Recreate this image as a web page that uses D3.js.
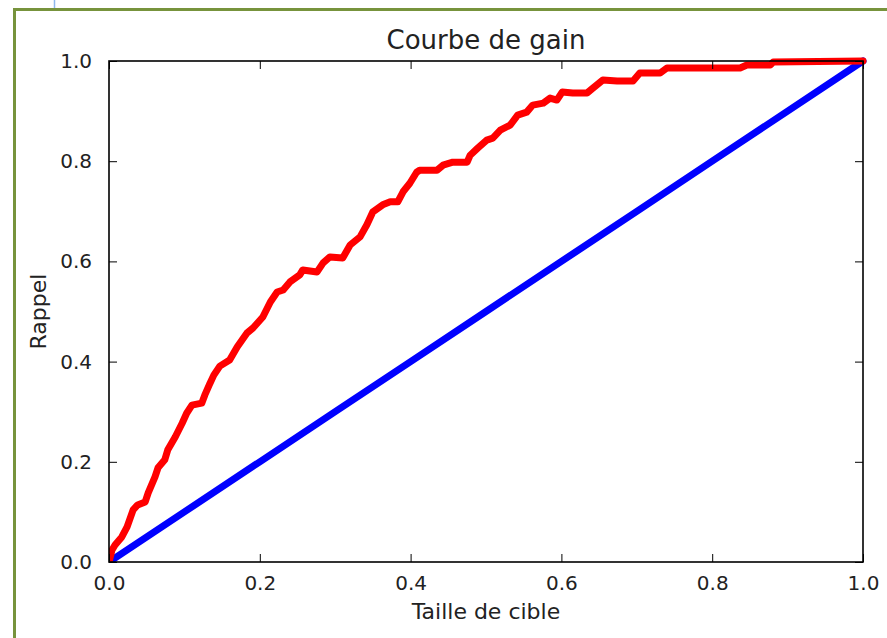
<!DOCTYPE html>
<html>
<head>
<meta charset="utf-8">
<script src="https://cdn.jsdelivr.net/npm/d3@7"></script>
<style>
  html, body { margin: 0; padding: 0; background: #fff; }
  svg { display: block; }
  text { font-family: "DejaVu Sans", sans-serif; fill: #222; }
</style>
</head>
<body>
<svg id="chart" width="887" height="638"></svg>
<script>
// ---- data ----
const titleText = "Courbe de gain";
const xLabel = "Taille de cible";
const yLabel = "Rappel";
const xTicks = [0.0, 0.2, 0.4, 0.6, 0.8, 1.0];
const yTicks = [0.0, 0.2, 0.4, 0.6, 0.8, 1.0];

// gain curve (red)
const gainX = [0, 0.004, 0.008, 0.017, 0.024, 0.032, 0.038, 0.048, 0.052, 0.061, 0.065, 0.074, 0.078, 0.088, 0.097, 0.103, 0.110, 0.123, 0.127, 0.134, 0.139, 0.147, 0.160, 0.170, 0.183, 0.191, 0.204, 0.214, 0.223, 0.231, 0.240, 0.253, 0.257, 0.276, 0.284, 0.293, 0.310, 0.320, 0.333, 0.342, 0.350, 0.363, 0.373, 0.383, 0.390, 0.399, 0.408, 0.412, 0.435, 0.443, 0.456, 0.475, 0.479, 0.489, 0.501, 0.509, 0.519, 0.532, 0.542, 0.554, 0.562, 0.576, 0.585, 0.594, 0.601, 0.615, 0.634, 0.642, 0.655, 0.674, 0.695, 0.704, 0.731, 0.740, 0.837, 0.846, 0.877, 0.881, 1.0];
const gainY = [0, 0.024, 0.034, 0.050, 0.070, 0.104, 0.114, 0.120, 0.138, 0.170, 0.188, 0.204, 0.224, 0.250, 0.277, 0.297, 0.313, 0.317, 0.333, 0.357, 0.373, 0.391, 0.403, 0.429, 0.457, 0.467, 0.489, 0.519, 0.539, 0.543, 0.559, 0.573, 0.583, 0.579, 0.597, 0.609, 0.607, 0.633, 0.649, 0.673, 0.699, 0.713, 0.719, 0.719, 0.739, 0.756, 0.778, 0.782, 0.782, 0.792, 0.798, 0.798, 0.812, 0.826, 0.842, 0.846, 0.862, 0.872, 0.892, 0.898, 0.912, 0.916, 0.926, 0.922, 0.938, 0.936, 0.936, 0.946, 0.962, 0.960, 0.960, 0.976, 0.976, 0.986, 0.986, 0.992, 0.992, 0.998, 1.0];

// random baseline (blue)
const baseX = [0, 0.1, 0.2, 0.3, 0.4, 0.5, 0.6, 0.7, 0.8, 0.9, 1.0];
const baseY = [0, 0.1, 0.2, 0.3, 0.4, 0.5, 0.6, 0.7, 0.8, 0.9, 1.0];

// ---- layout ----
const svg = d3.select("#chart");
const L = 109, R = 863, T = 61, B = 562;

// page decoration: green frame and small blue line
svg.append("line").attr("x1", 54.5).attr("x2", 54.5).attr("y1", 0).attr("y2", 9)
  .attr("stroke", "#8fb8ee").attr("stroke-width", 1.5);
svg.append("path").attr("d", "M14.5,638 V9.5 H887")
  .attr("fill", "none").attr("stroke", "#77933c").attr("stroke-width", 3);

const x = d3.scaleLinear().domain([0, 1]).range([L, R]);
const y = d3.scaleLinear().domain([0, 1]).range([B, T]);

const clipId = "plotclip";
svg.append("clipPath").attr("id", clipId).append("rect")
  .attr("x", L).attr("y", T - 4).attr("width", R - L + 4).attr("height", B - T + 4);

const line = d3.line().x(d => x(d[0])).y(d => y(d[1]));
const g = svg.append("g").attr("clip-path", `url(#${clipId})`);
g.append("path").datum(baseX.map((v, i) => [v, baseY[i]]))
  .attr("d", line).attr("fill", "none").attr("stroke", "#0000ff")
  .attr("stroke-width", 7).attr("stroke-linejoin", "round").attr("stroke-linecap", "round");
g.append("path").datum(gainX.map((v, i) => [v, gainY[i]]))
  .attr("d", line).attr("fill", "none").attr("stroke", "#ff0000")
  .attr("stroke-width", 7).attr("stroke-linejoin", "round").attr("stroke-linecap", "round");

// axes (ticks inward, on all sides)
const fmt = d3.format(".1f");
const tickLen = 8;
const axB = svg.append("g").attr("transform", `translate(0,${B})`)
  .call(d3.axisBottom(x).tickValues(xTicks).tickFormat(fmt).tickSizeInner(-tickLen).tickSizeOuter(0).tickPadding(tickLen + 6));
const axL = svg.append("g").attr("transform", `translate(${L},0)`)
  .call(d3.axisLeft(y).tickValues(yTicks).tickFormat(fmt).tickSizeInner(-tickLen).tickSizeOuter(0).tickPadding(tickLen + 9));
const axT = svg.append("g").attr("transform", `translate(0,${T})`)
  .call(d3.axisTop(x).tickValues(xTicks).tickFormat("").tickSizeInner(-tickLen).tickSizeOuter(0));
const axR = svg.append("g").attr("transform", `translate(${R},0)`)
  .call(d3.axisRight(y).tickValues(yTicks).tickFormat("").tickSizeInner(-tickLen).tickSizeOuter(0));

[axB, axL, axT, axR].forEach(a => {
  a.select(".domain").remove();
  a.selectAll(".tick line").attr("stroke", "#000").attr("stroke-width", 1);
  a.selectAll(".tick text").style("font-family", "DejaVu Sans, sans-serif").attr("font-size", 20).attr("fill", "#222");
});

// frame
svg.append("rect").attr("x", L).attr("y", T).attr("width", R - L).attr("height", B - T)
  .attr("fill", "none").attr("stroke", "#000").attr("stroke-width", 1.6);

// title and labels
svg.append("text").attr("x", (L + R) / 2).attr("y", 49).attr("text-anchor", "middle")
  .attr("font-size", 26).text(titleText);
svg.append("text").attr("x", (L + R) / 2).attr("y", 619).attr("text-anchor", "middle")
  .attr("font-size", 22).text(xLabel);
svg.append("text").attr("transform", `translate(46,${(T + B) / 2}) rotate(-90)`)
  .attr("text-anchor", "middle").attr("font-size", 22).text(yLabel);
</script>
</body>
</html>
